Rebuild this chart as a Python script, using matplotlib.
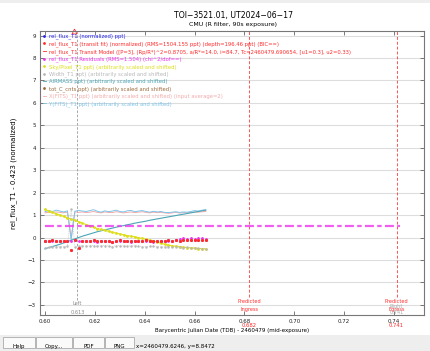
import matplotlib
matplotlib.use("Agg")
import matplotlib.pyplot as plt
from matplotlib.lines import Line2D
from matplotlib.patches import Rectangle

# time axis (BJD_TDB - 2460479)
bjd = [0.6000, 0.6015, 0.6030, 0.6045, 0.6060, 0.6075, 0.6090, 0.6105, 0.6120, 0.6135,
       0.6150, 0.6165, 0.6180, 0.6195, 0.6210, 0.6225, 0.6240, 0.6255, 0.6270, 0.6285,
       0.6300, 0.6315, 0.6330, 0.6345, 0.6360, 0.6375, 0.6390, 0.6405, 0.6420, 0.6435,
       0.6450, 0.6465, 0.6480, 0.6495, 0.6510, 0.6525, 0.6540, 0.6555, 0.6570, 0.6585,
       0.6600, 0.6615, 0.6630, 0.6645]

rel_flux = [-0.14, -0.15, -0.13, -0.15, -0.14, -0.16, -0.15, -0.55, -0.12, -0.47,
            -0.14, -0.16, -0.15, -0.13, -0.17, -0.15, -0.14, -0.16, -0.18, -0.15,
            -0.13, -0.16, -0.15, -0.17, -0.14, -0.15, -0.16, -0.13, -0.15, -0.17,
            -0.14, -0.16, -0.15, -0.13, -0.16, -0.12, -0.14, -0.11, -0.13, -0.10,
            -0.12, -0.09, -0.11, -0.13]
rel_flux_err = 0.04

residuals = [-0.15, -0.16, -0.14, -0.16, -0.15, -0.17, -0.16, -0.16, -0.13, -0.16,
             -0.15, -0.17, -0.16, -0.14, -0.18, -0.16, -0.15, -0.17, -0.19, -0.16,
             -0.14, -0.17, -0.16, -0.18, -0.15, -0.16, -0.17, -0.14, -0.16, -0.18,
             -0.15, -0.17, -0.16, -0.14, -0.17, -0.13, -0.08, -0.04, -0.06, -0.03,
             -0.05, -0.02, -0.04, -0.06]
residual_level = 0.52

sky = [1.25, 1.18, 1.12, 1.06, 1.00, 0.94, 0.88, 0.82, 0.76, 0.70,
       0.64, 0.58, 0.52, 0.46, 0.40, 0.36, 0.32, 0.28, 0.24, 0.20,
       0.16, 0.12, 0.09, 0.06, 0.03, 0.00, -0.04, -0.08, -0.12, -0.16,
       -0.20, -0.25, -0.30, -0.34, -0.37, -0.39, -0.41, -0.43, -0.45, -0.46,
       -0.47, -0.49, -0.50, -0.51]

width = [-0.45, -0.43, -0.42, -0.40, -0.41, -0.40, -0.38, 1.25, -0.40, -0.38,
         -0.37, -0.38, -0.37, -0.36, -0.38, -0.37, -0.36, -0.38, -0.40, -0.37,
         -0.36, -0.38, -0.39, -0.37, -0.36, -0.38, -0.40, -0.41, -0.39, -0.38,
         -0.40, -0.42, -0.41, -0.40, -0.43, -0.41, -0.44, -0.45, -0.43, -0.46,
         -0.47, -0.48, -0.49, -0.50]

airmass = [-0.50, -0.45, -0.40, -0.35, -0.30, -0.24, -0.18, -0.12, -0.06, 0.00,
           0.06, 0.11, 0.16, 0.21, 0.26, 0.30, 0.34, 0.38, 0.42, 0.46,
           0.50, 0.53, 0.57, 0.60, 0.64, 0.67, 0.70, 0.73, 0.77, 0.80,
           0.83, 0.86, 0.89, 0.92, 0.95, 0.98, 1.01, 1.04, 1.07, 1.10,
           1.13, 1.16, 1.19, 1.22]

x_fits = [1.10, 1.13, 1.11, 1.14, 1.12, 1.10, 1.13, 0.00, 1.15, 1.12,
          1.14, 1.11, 1.13, 1.16, 1.12, 1.10, 1.14, 1.12, 1.11, 1.15,
          1.13, 1.10, 1.12, 1.14, 1.11, 1.13, 1.15, 1.12, 1.10, 1.13,
          1.11, 1.12, 1.10, 1.08, 1.10, 1.12, 1.09, 1.11, 1.10, 1.12,
          1.14, 1.13, 1.15, 1.16]

y_fits = [1.15, 1.20, 1.16, 1.22, 1.18, 1.14, 1.19, -0.10, 1.17, 1.21,
          1.18, 1.16, 1.20, 1.24, 1.17, 1.13, 1.19, 1.15, 1.18, 1.22,
          1.16, 1.14, 1.19, 1.21, 1.15, 1.18, 1.20, 1.16, 1.13, 1.17,
          1.14, 1.16, 1.12, 1.11, 1.13, 1.15, 1.12, 1.14, 1.13, 1.16,
          1.20, 1.18, 1.22, 1.24]

left_x = 0.613
ingress_x = 0.682
egress_x = 0.741

legend_labels = [
    "rel_flux_T1 (normalized) ppt)",
    "rel_flux_T1 (transit fit) (normalized) (RMS=1504.155 ppt) (depth=196.46 ppt) (BIC==)",
    "rel_flux_T1 Transit Model ([P=3], (Rp/R*)^2=0.8705, a/R*=14.0, i=84.7, Tc=2460479.690654, [u1=0.3], u2=0.33)",
    "rel_flux_T1 Residuals (RMS=1.504) (chi^2/dof==)",
    "Sky/Pixel_T1 ppt) (arbitrarily scaled and shifted)",
    "Width_T1 ppt) (arbitrarily scaled and shifted)",
    "AIRMASS ppt) (arbitrarily scaled and shifted)",
    "tot_C_cnts ppt) (arbitrarily scaled and shifted)",
    "X(FITS)_T1 ppt) (arbitrarily scaled and shifted) (input average=2)",
    "Y(FITS)_T1 ppt) (arbitrarily scaled and shifted)",
]

c_blue = "#2222ee"
c_red = "#ff2a2a"
c_mag = "#ee33ee"
c_yel = "#dede1a"
c_gray = "#b8b8b8"
c_teal = "#4aa6b6"
c_brown = "#9a6a3a"
c_pink = "#f2aaaa"
c_lblue = "#7cc4ea"

fig = plt.figure(figsize=(4.3, 3.51), dpi=100)
ax = fig.add_axes([0.093, 0.1026, 0.893, 0.809])

ax.plot(bjd, x_fits, color=c_pink, lw=0.7, zorder=2)
ax.plot(bjd, y_fits, color=c_lblue, lw=0.7, zorder=2)
ax.plot(bjd, airmass, color=c_teal, lw=0.8, zorder=2)
ax.plot(bjd, sky, color=c_yel, lw=0.8, marker='.', ms=2, zorder=2)
ax.plot(bjd, width, color=c_gray, lw=0.5, ls=':', marker='.', ms=1.5, zorder=2)
ax.plot(bjd, rel_flux, color=c_blue, ls='none', marker='.', ms=1.5, zorder=3)
ax.errorbar(bjd, residuals, yerr=rel_flux_err, fmt='.', ms=2, color=c_mag,
            elinewidth=0.5, zorder=3)
ax.errorbar(bjd, rel_flux, yerr=rel_flux_err, fmt='.', ms=2.5, color=c_red,
            elinewidth=0.5, zorder=4)
ax.plot([bjd[0], 0.7424], [residual_level, residual_level], color=c_mag, lw=1.6,
        dashes=(4, 1.5, 2, 1.5), alpha=0.8, zorder=2)

# event markers
ax.plot([left_x, left_x], [-2.78, 9.3], color="#999999", lw=0.6, ls=(0, (3, 2)), zorder=1)
for xe in (ingress_x, egress_x):
    ax.plot([xe, xe], [-2.65, 9.3], color=c_red, lw=0.7, ls=(0, (3, 2)), alpha=0.8, zorder=1)
ax.plot([0.6118], [9.2], marker='^', ms=3.5, mfc='none', mec=c_red, mew=0.6, clip_on=False)

ax.text(left_x, -2.95, "Left", color="#888888", fontsize=3.6, ha='center', va='center')
ax.text(left_x, -3.35, "0.613", color="#888888", fontsize=3.6, ha='center', va='center')
for xe, name in ((ingress_x, "Ingress"), (egress_x, "Egress")):
    ax.text(xe, -2.85, "Predicted", color=c_red, fontsize=3.6, ha='center', va='center')
    ax.text(xe, -3.2, name, color=c_red, fontsize=3.6, ha='center', va='center')
    ax.text(xe, -3.9, "%.3f" % xe, color=c_red, fontsize=3.8, ha='center', va='center', clip_on=False)
ax.text(egress_x, -3.05, "Right", color="#aaaaaa", fontsize=3.6, ha='center', va='center')
ax.text(egress_x, -3.35, "0.741", color="#aaaaaa", fontsize=3.6, ha='center', va='center')

ax.set_xlim(0.598, 0.752)
ax.set_ylim(-3.45, 9.2)
ax.set_xticks([0.60, 0.62, 0.64, 0.66, 0.68, 0.70, 0.72, 0.74])
ax.set_yticks(range(-3, 10))
ax.grid(axis='y', color="#dddddd", lw=0.8)
ax.set_axisbelow(True)
ax.tick_params(direction='in', top=True, right=True, length=3, width=0.6,
               labelsize=4, colors="#666666", labelcolor="#222222", pad=3)
for s in ax.spines.values():
    s.set_color("#777777")
    s.set_linewidth(0.8)

ax.set_xlabel("Barycentric Julian Date (TDB) - 2460479 (mid-exposure)", fontsize=4, labelpad=3)
ax.set_ylabel("rel_flux_T1 - 0.423 (normalized)", fontsize=5, labelpad=8)

handles = [
    Line2D([], [], color=c_blue, marker='.', ls='none', ms=2),
    Line2D([], [], color=c_red, marker='.', ls='none', ms=2),
    Line2D([], [], color=c_red, lw=0.6),
    Line2D([], [], color=c_mag, marker='.', ls='none', ms=2),
    Line2D([], [], color=c_yel, marker='.', ls='none', ms=2),
    Line2D([], [], color=c_gray, marker='.', ls='none', ms=2),
    Line2D([], [], color=c_teal, lw=0.6),
    Line2D([], [], color=c_brown, marker='.', ls='none', ms=2),
    Line2D([], [], color=c_pink, lw=0.6),
    Line2D([], [], color=c_lblue, lw=0.6),
]
label_colors = [c_blue, c_red, c_red, c_mag, c_yel, c_gray, c_teal, c_brown, c_pink, c_lblue]
ax.legend(handles, legend_labels, loc='upper left', frameon=False, fontsize=3.8,
          labelcolor=label_colors, handlelength=0.7, handletextpad=0.5,
          labelspacing=0.36, borderaxespad=0.2, borderpad=0.3)

fig.text(0.542, 0.957, "TOI\u22123521.01, UT2024\u221206\u221217", fontsize=5.6, ha='center', va='center')
fig.text(0.542, 0.929, "CMU (R filter, 90s exposure)", fontsize=4.5, ha='center', va='center')

# window chrome: top strip and bottom button bar
fig.add_artist(Rectangle((0, 0.992), 1, 0.008, transform=fig.transFigure, color="#eeeeee", lw=0))
fig.add_artist(Rectangle((0, 0), 1, 0.045, transform=fig.transFigure, color="#eeeeee", lw=0))
buttons = [("Help", 3, 35), ("Copy...", 36, 72), ("PDF", 73, 104), ("PNG", 105, 134)]
for name, x0, x1 in buttons:
    fig.add_artist(Rectangle((x0 / 430, 3 / 351), (x1 - x0) / 430, 11 / 351,
                             transform=fig.transFigure, fc="#fafafa", ec="#aaaaaa", lw=0.6))
    fig.text((x0 + x1) / 2 / 430, 1 - 346.5 / 351, name, fontsize=4, ha='center', va='center')
fig.text(136 / 430, 1 - 346.5 / 351, "x=2460479.6246, y=8.8472", fontsize=4, ha='left', va='center')

fig.savefig("out.png", dpi=100)
